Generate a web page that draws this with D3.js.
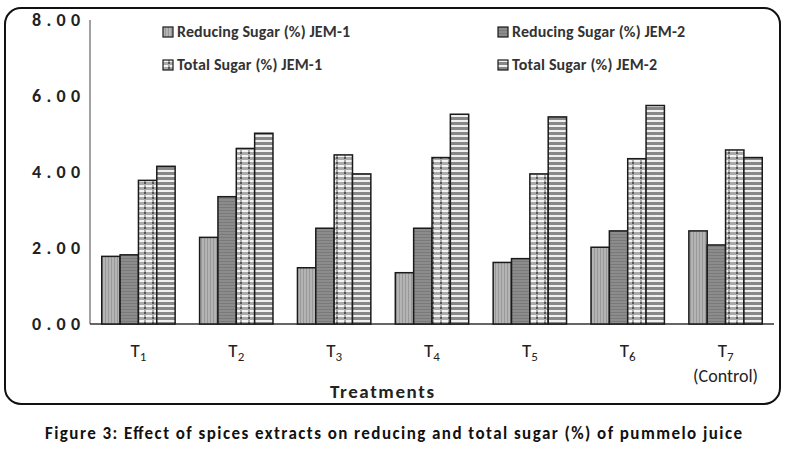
<!DOCTYPE html>
<html>
<head>
<meta charset="UTF-8" />
<script src="https://d3js.org/d3.v7.min.js"></script>
<style>
  html, body { margin: 0; padding: 0; background: #fff; }
  svg { display: block; font-family: Calibri, Carlito, "Open Sans", sans-serif; }
</style>
</head>
<body>
<svg width="787" height="454"></svg>
<script>
  const categories = ["T1", "T2", "T3", "T4", "T5", "T6", "T7"];
  const seriesNames = ["Reducing Sugar (%) JEM-1", "Reducing Sugar (%) JEM-2", "Total Sugar (%) JEM-1", "Total Sugar (%) JEM-2"];
  const reducingJem1 = [1.78, 2.28, 1.48, 1.35, 1.62, 2.02, 2.45];
  const reducingJem2 = [1.82, 3.35, 2.52, 2.52, 1.72, 2.45, 2.08];
  const totalJem1 = [3.78, 4.62, 4.45, 4.38, 3.95, 4.35, 4.58];
  const totalJem2 = [4.15, 5.02, 3.95, 5.52, 5.45, 5.75, 4.38];
  const yTicks = [0, 2, 4, 6, 8];

  const series = [reducingJem1, reducingJem2, totalJem1, totalJem2];
  const svg = d3.select("svg");

  // patterns
  const defs = svg.append("defs");
  const p0 = defs.append("pattern").attr("id", "p0").attr("patternUnits", "userSpaceOnUse").attr("width", 3).attr("height", 3);
  p0.append("rect").attr("width", 3).attr("height", 3).attr("fill", "#b4b4b4");
  p0.append("rect").attr("width", 1).attr("height", 3).attr("fill", "#999");
  const p1 = defs.append("pattern").attr("id", "p1").attr("patternUnits", "userSpaceOnUse").attr("width", 3).attr("height", 3);
  p1.append("rect").attr("width", 3).attr("height", 3).attr("fill", "#8c8c8c");
  p1.append("rect").attr("width", 3).attr("height", 1).attr("fill", "#7a7a7a");
  const p2 = defs.append("pattern").attr("id", "p2").attr("patternUnits", "userSpaceOnUse").attr("width", 8).attr("height", 5);
  p2.append("rect").attr("width", 8).attr("height", 5).attr("fill", "#aaa");
  p2.append("rect").attr("x", 2).attr("width", 6).attr("height", 2).attr("fill", "#f4f4f4");
  p2.append("rect").attr("x", 0).attr("y", 2).attr("width", 2).attr("height", 2).attr("fill", "#555");
  const p3 = defs.append("pattern").attr("id", "p3").attr("patternUnits", "userSpaceOnUse").attr("width", 4).attr("height", 5);
  p3.append("rect").attr("width", 4).attr("height", 5).attr("fill", "#888");
  p3.append("rect").attr("width", 4).attr("height", 2).attr("fill", "#f0f0f0");
  const fills = ["url(#p0)", "url(#p1)", "url(#p2)", "url(#p3)"];

  // frame
  svg.append("rect").attr("x", 5).attr("y", 8).attr("width", 775).attr("height", 396)
    .attr("rx", 16).attr("fill", "none").attr("stroke", "#111").attr("stroke-width", 2);

  const x = d3.scaleBand().domain(categories).range([90, 774]).paddingInner(0.25).paddingOuter(0.12);
  const x1 = d3.scaleBand().domain(d3.range(4)).range([0, x.bandwidth()]);
  const y = d3.scaleLinear().domain([0, 8]).range([324, 20]);

  // y axis
  svg.append("line").attr("x1", 90).attr("x2", 90).attr("y1", y(8)).attr("y2", y(0)).attr("stroke", "#444");
  yTicks.forEach(t => {
    svg.append("text").attr("x", 80).attr("y", y(t) + 6).attr("text-anchor", "end")
      .attr("font-size", 18).attr("font-weight", "bold").attr("fill", "#222")
      .attr("textLength", 48).text(t.toFixed(2));
  });
  svg.append("line").attr("x1", 90).attr("x2", 774).attr("y1", y(0)).attr("y2", y(0)).attr("stroke", "#333").attr("stroke-width", 1.5);

  // bars
  const g = svg.append("g");
  categories.forEach((c, i) => {
    series.forEach((s, k) => {
      g.append("rect")
        .attr("x", x(c) + x1(k)).attr("y", y(s[i]))
        .attr("width", x1.bandwidth()).attr("height", y(0) - y(s[i]))
        .attr("fill", fills[k]).attr("stroke", "#1a1a1a").attr("stroke-width", 1.5);
    });
    const t = svg.append("text").attr("x", x(c) + x.bandwidth() / 2).attr("y", 357)
      .attr("text-anchor", "middle").attr("font-size", 19).attr("fill", "#222");
    t.append("tspan").text("T");
    t.append("tspan").attr("font-size", 13).attr("dy", 4).text(c.slice(1));
    if (i === 6) {
      svg.append("text").attr("x", x(c) + x.bandwidth() / 2).attr("y", 382)
        .attr("text-anchor", "middle").attr("font-size", 18).attr("fill", "#222").text("(Control)");
    }
  });

  svg.append("text").attr("x", 382).attr("y", 398).attr("text-anchor", "middle")
    .attr("font-size", 19).attr("font-weight", "bold").attr("fill", "#222")
    .attr("textLength", 104).text("Treatments");

  // legend
  const legPos = [[163, 37], [498, 37], [163, 70], [498, 70]];
  const legLen = [173, 173, 145, 145];
  seriesNames.forEach((n, k) => {
    const [lx, ly] = legPos[k];
    svg.append("rect").attr("x", lx).attr("y", ly - 10).attr("width", 10).attr("height", 10)
      .attr("fill", fills[k]).attr("stroke", "#1a1a1a").attr("stroke-width", 1.2);
    svg.append("text").attr("x", lx + 14).attr("y", ly).attr("font-size", 16).attr("font-weight", "bold")
      .attr("fill", "#333").attr("textLength", legLen[k]).text(n);
  });

  svg.append("text").attr("x", 45).attr("y", 439)
    .attr("font-size", 17).attr("font-weight", "bold").attr("fill", "#111")
    .attr("textLength", 697)
    .text("Figure 3: Effect of spices extracts on reducing and total sugar (%) of pummelo juice");
</script>
</body>
</html>
